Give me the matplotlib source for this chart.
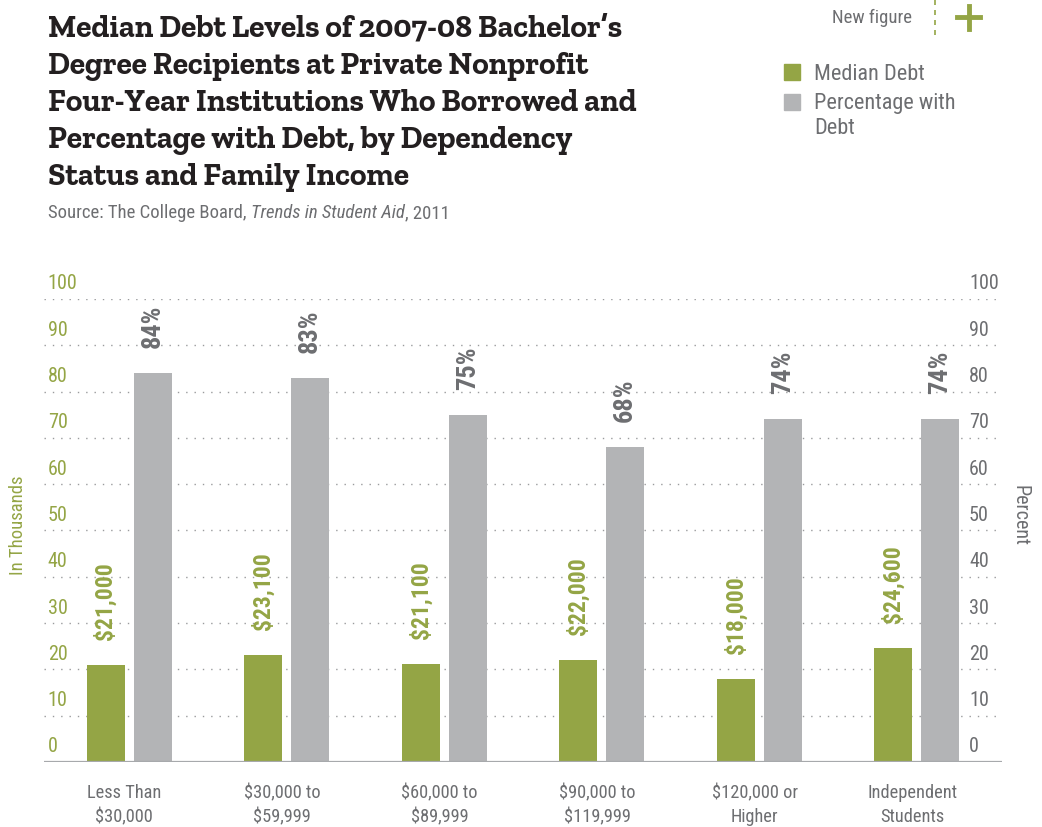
import numpy as np
import matplotlib.pyplot as plt
from matplotlib.lines import Line2D

# DATA -----------------------------------------------------------------------+
categories = ['Less Than\n$30,000', '$30,000 to\n$59,999', '$60,000 to\n$89,999',
              '$90,000 to\n$119,999', '$120,000 or\nHigher', 'Independent\nStudents']
median_debt = [21.0, 23.1, 21.1, 22.0, 18.0, 24.6]          # in thousands
pct_with_debt = [84, 83, 75, 68, 74, 74]                      # percent
debt_labels = ['$21,000', '$23,100', '$21,100', '$22,000', '$18,000', '$24,600']
yticks = [0, 10, 20, 30, 40, 50, 60, 70, 80, 90, 100]

# STYLE ----------------------------------------------------------------------+
GREEN = '#94a545'
GRAY_BAR = '#b3b4b6'
GRAY_TXT = '#6d6e71'
NARROW = ['Roboto Condensed', 'DejaVu Sans']

fig = plt.figure(figsize=(10.42, 8.27), dpi=100)
ax = fig.add_axes([0.0422, 0.0786, 0.9194, 0.5599])

x = np.arange(len(categories))
w = 0.241
off = 0.149

# gridlines
for v in yticks[1:]:
	ax.axhline(v, color='#9a9b9d', lw=1.0, ls=(0, (1, 5)), zorder=0)
ax.axhline(0, color='#a7a9ac', lw=1.6, zorder=3)

ax.bar(x - off, median_debt, w, color=GREEN, zorder=2)
ax.bar(x + off, pct_with_debt, w, color=GRAY_BAR, zorder=2)

# value labels
for i in range(len(x)):
	ax.annotate(debt_labels[i], (x[i] - off, median_debt[i]), xytext=(0, 18),
		textcoords='offset points', rotation=90, ha='center', va='bottom',
		color=GREEN, fontsize=17, fontweight='bold', family=NARROW)
	ax.annotate('%d%%' % pct_with_debt[i], (x[i] + off, pct_with_debt[i]), xytext=(0, 18),
		textcoords='offset points', rotation=90, ha='center', va='bottom',
		color=GRAY_TXT, fontsize=19, fontweight='bold', family=NARROW)

ax.set_xlim(-0.54, 5.54)
ax.set_ylim(0, 100)
for s in ax.spines.values():
	s.set_visible(False)
ax.set_yticks([])
ax.set_xticks(x - 0.03)
ax.set_xticklabels(categories, color=GRAY_TXT, fontsize=13.2, family=NARROW, linespacing=1.4)
ax.tick_params(axis='x', length=0, pad=16)

# tick labels above gridlines
ytr = ax.get_yaxis_transform()
for v in yticks:
	ax.annotate(str(v), (0.004, v), xycoords=ytr, xytext=(0, 4), textcoords='offset points',
		ha='left', va='bottom', color=GREEN, fontsize=14.5, family=NARROW)
	ax.annotate(str(v), (0.9656, v), xycoords=ytr, xytext=(0, 4), textcoords='offset points',
		ha='left', va='bottom', color=GRAY_TXT, fontsize=14.5, family=NARROW)

fig.text(0.017, 0.365, 'In Thousands', rotation=90, ha='center', va='center',
	color=GREEN, fontsize=13.5, family=NARROW)
fig.text(0.979, 0.377, 'Percent', rotation=-90, ha='center', va='center',
	color=GRAY_TXT, fontsize=14.5, family=NARROW)

# title and source
title = ("Median Debt Levels of 2007-08 Bachelor\u2019s\nDegree Recipients at Private Nonprofit\n"
	"Four-Year Institutions Who Borrowed and\nPercentage with Debt, by Dependency\n"
	"Status and Family Income")
fig.text(0.046, 0.982, title, ha='left', va='top', fontsize=22.6, fontweight='bold',
	family=['Zilla Slab', 'DejaVu Serif'], color='#231f20', linespacing=1.37)
t1 = fig.text(0.046, 0.742, 'Source: The College Board, ', ha='left', va='center',
	fontsize=13.5, family=NARROW, color=GRAY_TXT)
fig.canvas.draw()
r = fig.canvas.get_renderer()
bb = t1.get_window_extent(r)
t2 = fig.text(bb.x1 / 1042, 0.742, 'Trends in Student Aid', ha='left', va='center',
	fontsize=13.5, family=NARROW, style='italic', color=GRAY_TXT)
bb = t2.get_window_extent(r)
fig.text(bb.x1 / 1042, 0.742, ', 2011', ha='left', va='center',
	fontsize=13.5, family=NARROW, color=GRAY_TXT)

# legend
fig.patches.append(plt.Rectangle((784 / 1042, 1 - 80 / 827), 16 / 1042, 16 / 827,
	transform=fig.transFigure, color=GREEN))
fig.patches.append(plt.Rectangle((784 / 1042, 1 - 110 / 827), 16 / 1042, 16 / 827,
	transform=fig.transFigure, color=GRAY_BAR))
fig.text(814 / 1042, 1 - 74 / 827, 'Median Debt', ha='left', va='center',
	fontsize=16, family=NARROW, color=GRAY_TXT)
fig.text(814 / 1042, 1 - 116 / 827, 'Percentage with\nDebt', ha='left', va='center',
	fontsize=16, family=NARROW, color=GRAY_TXT, linespacing=1.2)

# "New figure" marker
fig.text(912 / 1042, 1 - 18 / 827, 'New figure', ha='right', va='center',
	fontsize=13.5, family=NARROW, color=GRAY_TXT)
fig.lines.append(Line2D([935 / 1042, 935 / 1042], [1, 1 - 40 / 827], transform=fig.transFigure,
	color=GREEN, lw=1.2, ls=(0, (3, 3))))
fig.lines.append(Line2D([957 / 1042, 980 / 1042], [1 - 17 / 827, 1 - 17 / 827],
	transform=fig.transFigure, color=GREEN, lw=3.5))
fig.lines.append(Line2D([968.5 / 1042, 968.5 / 1042], [1 - 6 / 827, 1 - 29 / 827],
	transform=fig.transFigure, color=GREEN, lw=3.5))

plt.savefig('out.png', dpi=100)
